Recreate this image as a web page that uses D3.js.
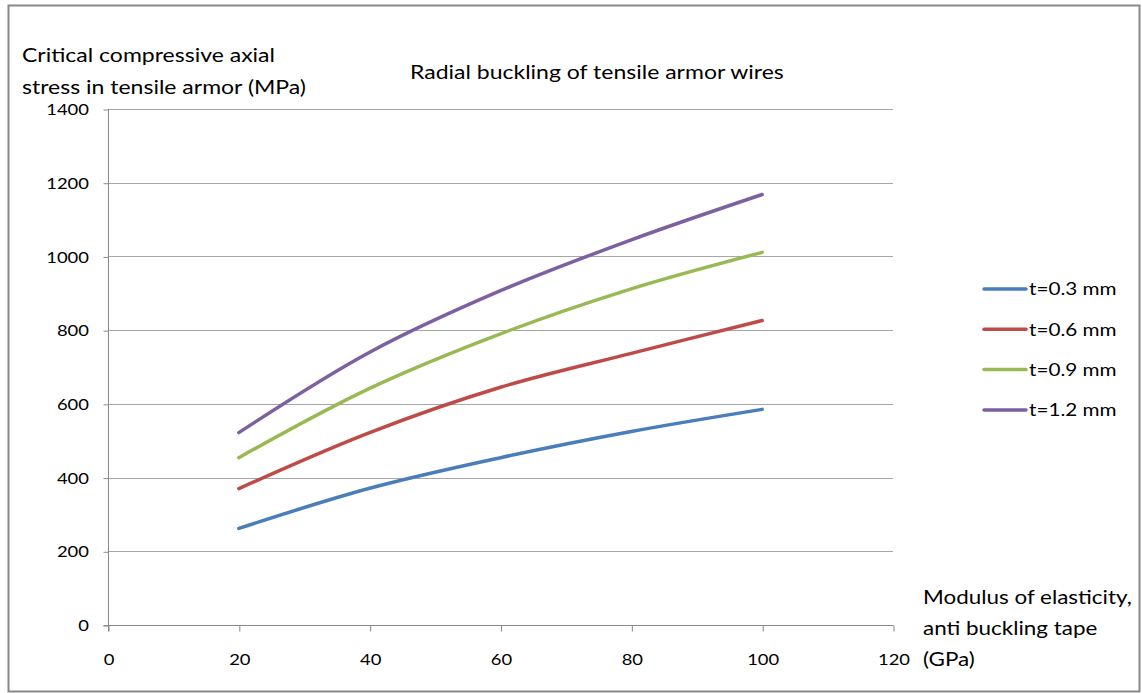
<!DOCTYPE html>
<html>
<head>
<meta charset="utf-8">
<script src="https://cdn.jsdelivr.net/npm/d3@7"></script>
<style>
  html, body { margin: 0; padding: 0; background: #fff; }
  svg { display: block; }
  text { font-family: Lato, "Open Sans", sans-serif; fill: #000; }
</style>
</head>
<body>
<svg id="chart" width="1142" height="693"></svg>
<script>
// Elastic modulus of the anti-buckling tape (GPa)
const modulus = [20, 40, 60, 80, 100];

// Critical compressive axial stress (MPa) for each armor wire thickness
const stressT03 = [262, 371, 454, 525, 585];
const stressT06 = [370, 522, 645, 737, 826];
const stressT09 = [454, 642, 790, 912, 1011];
const stressT12 = [522, 740, 907, 1045, 1168];

const seriesNames = ["t=0.3 mm", "t=0.6 mm", "t=0.9 mm", "t=1.2 mm"];
const seriesColors = ["#4a7ebb", "#be4b48", "#98b954", "#7d60a0"];

const xTicks = [0, 20, 40, 60, 80, 100, 120];
const yTicks = [0, 200, 400, 600, 800, 1000, 1200, 1400];

const chartTitle = "Radial buckling of tensile armor wires";
const yTitleLines = ["Critical compressive axial", "stress in tensile armor (MPa)"];
const xTitleLines = ["Modulus of elasticity,", "anti buckling tape", "(GPa)"];

// glyphs are drawn slightly wide
const stretch = 1.15;

const series = [stressT03, stressT06, stressT09, stressT12].map((vals, i) => ({
  name: seriesNames[i],
  color: seriesColors[i],
  points: modulus.map((m, j) => [m, vals[j]])
}));

const svg = d3.select("#chart");

// outer frame
svg.append("rect")
  .attr("x", 8.5).attr("y", 5.5)
  .attr("width", 1131).attr("height", 686)
  .attr("fill", "#fff")
  .attr("stroke", "#888").attr("stroke-width", 2);

const x = d3.scaleLinear().domain([0, 120]).range([108, 893]);
const y = d3.scaleLinear().domain([0, 1400]).range([625, 109]);

// horizontal gridlines
svg.append("g")
  .selectAll("line")
  .data(yTicks.filter(v => v > 0))
  .join("line")
  .attr("x1", x(0)).attr("x2", x(120))
  .attr("y1", d => Math.round(y(d)) + 0.5)
  .attr("y2", d => Math.round(y(d)) + 0.5)
  .attr("stroke", "#a6a6a6").attr("stroke-width", 1);

// y axis
const yAxis = d3.axisLeft(y).tickValues(yTicks).tickSize(5).tickPadding(12)
  .tickFormat(d3.format("d"));
const gy = svg.append("g")
  .attr("transform", `translate(${Math.round(x(0)) + 0.5},0.5)`)
  .call(yAxis);
gy.select(".domain").attr("stroke", "#888").attr("d", `M0,${y(1400)}V${y(0) + 6}`);
gy.selectAll(".tick line").attr("stroke", "#888");
gy.selectAll(".tick text")
  .style("font-family", "Lato, sans-serif")
  .attr("font-size", 16).attr("fill", "#000")
  .attr("transform", `scale(${stretch},1)`);

// x axis
const xAxis = d3.axisBottom(x).tickValues(xTicks).tickSize(6).tickPadding(22)
  .tickFormat(d3.format("d"));
const gx = svg.append("g")
  .attr("transform", `translate(0.5,${Math.round(y(0)) + 0.5})`)
  .call(xAxis);
gx.select(".domain").attr("stroke", "#888").attr("d", `M${x(0) - 5},0H${x(120)}`);
gx.selectAll(".tick line").attr("stroke", "#888");
gx.selectAll(".tick text")
  .style("font-family", "Lato, sans-serif")
  .attr("font-size", 16).attr("fill", "#000")
  .attr("transform", `scale(${stretch},1)`);

// series curves
const line = d3.line()
  .x(d => x(d[0]))
  .y(d => y(d[1]))
  .curve(d3.curveCatmullRom.alpha(0.5));

svg.append("g")
  .selectAll("path")
  .data(series)
  .join("path")
  .attr("d", d => line(d.points))
  .attr("fill", "none")
  .attr("stroke", d => d.color)
  .attr("stroke-width", 3.5)
  .attr("stroke-linecap", "round")
  .attr("stroke-linejoin", "round");

// legend
const legend = svg.append("g");
const legendRows = legend.selectAll("g")
  .data(series)
  .join("g")
  .attr("transform", (d, i) => `translate(984,${289 + i * 40.3})`);
legendRows.append("line")
  .attr("x1", 0).attr("x2", 42)
  .attr("stroke", d => d.color)
  .attr("stroke-width", 3.5)
  .attr("stroke-linecap", "round");
legendRows.append("text")
  .attr("transform", `translate(45,0) scale(${stretch},1)`)
  .attr("dy", "0.35em")
  .attr("font-size", 18)
  .text(d => d.name);

// draws a block of lines, widened horizontally
function textBlock(lines, x0, y0, step, size) {
  const g = svg.append("g")
    .attr("transform", `translate(${x0},${y0}) scale(${stretch},1)`);
  g.append("text")
    .attr("font-size", size)
    .selectAll("tspan")
    .data(lines)
    .join("tspan")
    .attr("x", 0)
    .attr("y", (d, i) => i * step)
    .text(d => d);
}

// chart title
textBlock([chartTitle], 410, 79, 0, 20);

// y axis title
textBlock(yTitleLines, 22, 62, 32, 20);

// x axis title
textBlock(xTitleLines, 923, 604, 31, 19.5);
</script>
</body>
</html>
